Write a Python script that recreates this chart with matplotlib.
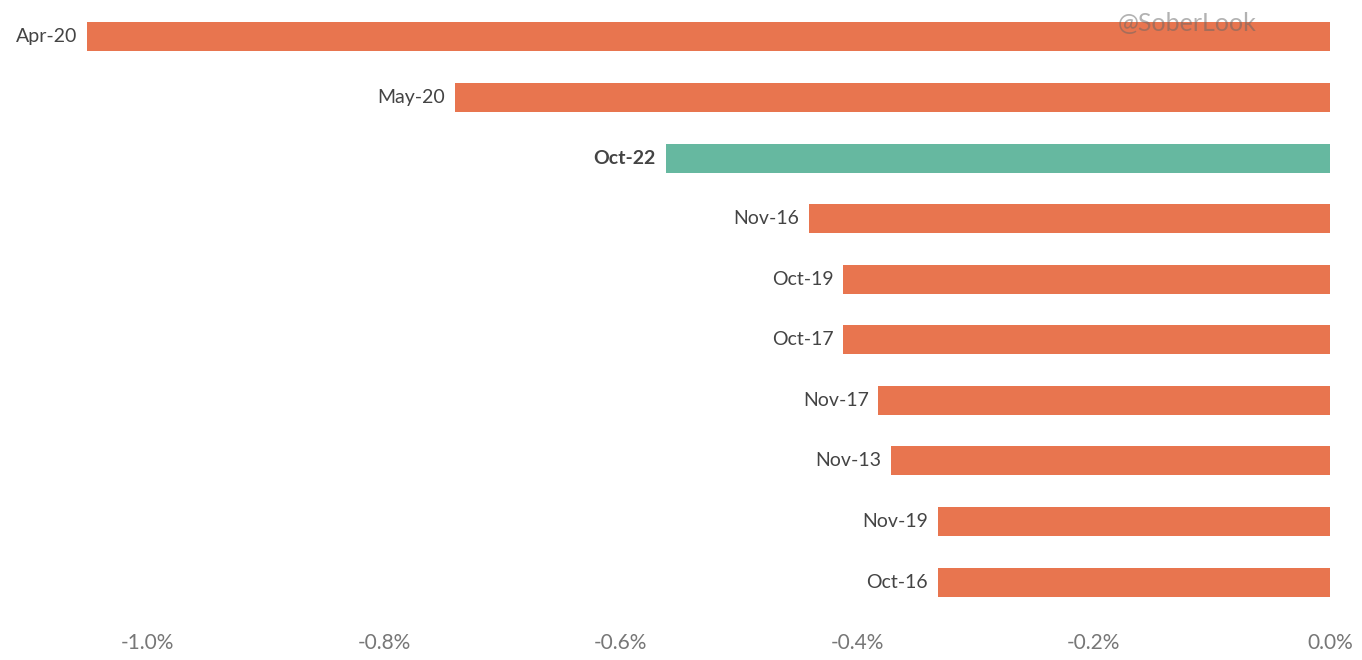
import matplotlib.pyplot as plt
from matplotlib.ticker import FuncFormatter

months = ["Apr-20", "May-20", "Oct-22", "Nov-16", "Oct-19",
          "Oct-17", "Nov-17", "Nov-13", "Nov-19", "Oct-16"]
changes = [-1.051, -0.740, -0.562, -0.441, -0.412,
           -0.412, -0.382, -0.371, -0.332, -0.332]
highlight = "Oct-22"
ticks = [-1.0, -0.8, -0.6, -0.4, -0.2, 0.0]

orange = "#E8754F"
green = "#66B8A0"

plt.rcParams['font.family'] = ['Lato', 'DejaVu Sans']

fig = plt.figure(figsize=(13.62, 6.6), dpi=100)
ax = fig.add_axes([0, 0.068, 1, 0.932])

ypos = list(range(len(months)))[::-1]
colors = [green if m == highlight else orange for m in months]
ax.barh(ypos, changes, height=0.48, color=colors)

for y, v, m in zip(ypos, changes, months):
    ax.annotate(m, (v, y), xytext=(-7, 0), textcoords="offset points",
                ha="right", va="center", fontsize=14, color="#444444",
                fontweight="bold" if m == highlight else "normal")

ax.set_xlim(-1.125, 0.027)
ax.set_ylim(-0.545, 9.61)
ax.set_xticks(ticks)
ax.xaxis.set_major_formatter(FuncFormatter(lambda x, p: f"{x:.1f}%"))
ax.tick_params(axis="x", length=0, pad=13, labelsize=15, labelcolor="#777777")
ax.set_yticks([])
for s in ax.spines.values():
    s.set_visible(False)

fig.text(0.872, 0.965, "@SoberLook", fontsize=18, color="#666666", alpha=0.5,
         ha="center", va="center")

fig.savefig("out.png", dpi=100)
